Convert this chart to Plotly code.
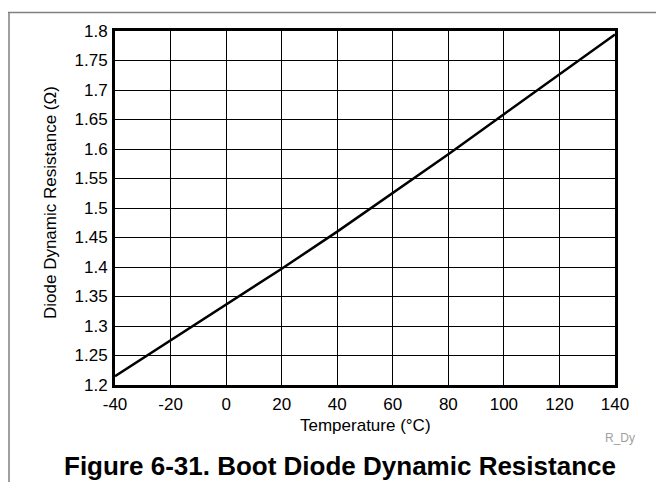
import plotly.graph_objects as go

temperature = [-40, -20, 0, 20, 40, 60, 80, 100, 120, 140]
resistance = [1.215, 1.276, 1.336, 1.397, 1.460, 1.525, 1.591, 1.659, 1.727, 1.794]

x_ticks = [-40, -20, 0, 20, 40, 60, 80, 100, 120, 140]
y_ticks = [1.2, 1.25, 1.3, 1.35, 1.4, 1.45, 1.5, 1.55, 1.6, 1.65, 1.7, 1.75, 1.8]
y_ticktext = ["1.2", "1.25", "1.3", "1.35", "1.4", "1.45", "1.5", "1.55", "1.6", "1.65", "1.7", "1.75", "1.8"]

FONT = "Liberation Sans, Arial, Helvetica, sans-serif"

L, R, T, B = 107, 57, 23, 105
W, H = 664, 482
pw, ph = W - L - R, H - T - B


def px(x):
    return (x - L) / pw


def py(y):
    return (H - B - y) / ph


fig = go.Figure()
fig.add_trace(go.Scatter(x=temperature, y=resistance, mode="lines",
                         line=dict(color="black", width=2.5), showlegend=False,
                         cliponaxis=True))

axis_common = dict(showgrid=True, gridcolor="#000000", gridwidth=1,
                   showline=True, linecolor="black", linewidth=3, mirror=True,
                   zeroline=False, ticks="",
                   tickfont=dict(family=FONT, size=17, color="black"))

fig.update_xaxes(range=[-40, 140], tickvals=x_ticks, ticktext=[str(v) for v in x_ticks],
                 ticklabelstandoff=2, **axis_common)
fig.update_yaxes(range=[1.2, 1.8], tickvals=y_ticks, ticktext=y_ticktext,
                 ticklabelstandoff=1, **axis_common)

annotations = [
    dict(text="Temperature (°C)", x=0.5, y=py(417), xref="paper", yref="paper",
         showarrow=False, xanchor="center", yanchor="middle",
         font=dict(family=FONT, size=17, color="black")),
    dict(text="Diode Dynamic Resistance (Ω)", x=px(42), y=py(195), xref="paper", yref="paper",
         showarrow=False, xanchor="center", yanchor="middle", textangle=-90,
         font=dict(family=FONT, size=17, color="black")),
    dict(text="R_Dy", x=px(612), y=py(430), xref="paper", yref="paper",
         showarrow=False, xanchor="center", yanchor="middle",
         font=dict(family=FONT, size=12, color="#a0a0a0")),
    dict(text="<b>Figure 6-31. Boot Diode Dynamic Resistance</b>", x=px(332), y=py(458),
         xref="paper", yref="paper", showarrow=False, xanchor="center", yanchor="middle",
         font=dict(family=FONT, size=26, color="black")),
]

shapes = [
    dict(type="line", xref="paper", yref="paper", x0=px(0), x1=px(664), y0=py(4.5), y1=py(4.5),
         line=dict(color="#808080", width=1.5)),
    dict(type="line", xref="paper", yref="paper", x0=px(1), x1=px(1), y0=py(4.5), y1=py(482),
         line=dict(color="#808080", width=1.5)),
]

fig.update_layout(width=W, height=H, margin=dict(l=L, r=R, t=T, b=B),
                  paper_bgcolor="white", plot_bgcolor="white",
                  annotations=annotations, shapes=shapes)

fig.write_html("out.html")
